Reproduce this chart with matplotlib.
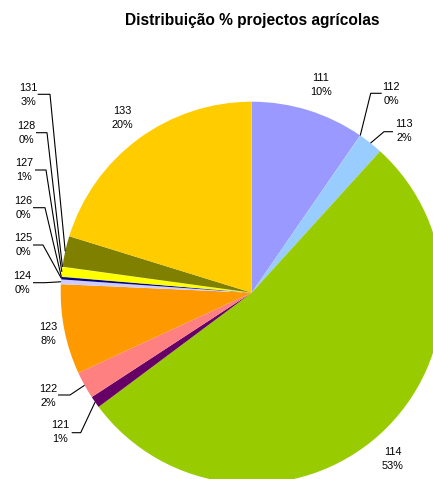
import matplotlib
matplotlib.use("Agg")
import matplotlib.pyplot as plt
import numpy as np

plt.rcParams['font.family'] = ['Liberation Sans', 'DejaVu Sans']

categories = ['111', '112', '113', '114', '121', '122', '123', '124', '125', '126', '127', '128', '131', '133']
values = [9.6, 0.02, 2.1, 53.0, 1.0, 2.3, 7.6, 0.4, 0.2, 0.03, 0.8, 0.03, 2.6, 20.2]
pct_labels = ['10%', '0%', '2%', '53%', '1%', '2%', '8%', '0%', '0%', '0%', '1%', '0%', '3%', '20%']
colors = ['#9999FF', '#99CCFF', '#99CCFF', '#99CC00', '#660066', '#FF8080', '#FF9900',
          '#CCCCFF', '#000080', '#000080', '#FFFF00', '#FFFF00', '#808000', '#FFCC00']
title = 'Distribuição % projectos agrícolas'

W, H = 433, 479
fig = plt.figure(figsize=(W / 100, H / 100), dpi=100)
ax = fig.add_axes([0, 0, 1, 1])

def P(x, y):
    return (x, H - y)

cx, cy = P(251.7, 292.7)
R = 191
wedges, _ = ax.pie(values, colors=colors, startangle=90, counterclock=False,
                   center=(cx, cy), radius=R, wedgeprops=dict(linewidth=0),
                   frame=True)
ax.set_xlim(0, W)
ax.set_ylim(0, H)
ax.set_aspect('equal')
ax.axis('off')

# label layout: text centre (pixels), leader (start, elbow) or None
layout = {
    '111': ((321, 85), None),
    '112': ((391, 94), ((381.7, 93.3), (370.7, 93.3))),
    '113': ((404, 131), ((393, 131.7), (384, 131.7))),
    '114': ((393, 459), None),
    '121': ((60, 432.5), ((71.7, 432.7), (80.7, 432.7))),
    '122': ((48, 395.5), ((58, 395), (70, 395))),
    '123': ((48, 334), None),
    '124': ((22, 283), ((33, 282.7), (45, 282.7))),
    '125': ((23, 245), ((33, 245), (43, 245))),
    '126': ((23, 207.5), ((33, 207.7), (45, 207.7))),
    '127': ((24, 170), ((35, 170), (46, 170))),
    '128': ((26, 133), ((36, 132.7), (47, 132.7))),
    '131': ((28, 94.7), ((37.7, 94.3), (50, 94.3))),
    '133': ((122, 117.5), None),
}

for w, cat, pl in zip(wedges, categories, pct_labels):
    (tx, ty), leader = layout[cat]
    ax.text(*P(tx, ty), f'{cat}\n{pl}', ha='center', va='center', fontsize=7.8,
            linespacing=1.5, color='#000000')
    if leader is not None:
        mid = np.deg2rad((w.theta1 + w.theta2) / 2)
        axx = cx + R * np.cos(mid)
        ayy = cy + R * np.sin(mid)
        (sx, sy), (ex, ey) = leader
        p1 = P(sx, sy)
        p2 = P(ex, ey)
        ax.plot([p1[0], p2[0], axx], [p1[1], p2[1], ayy], color='black', lw=0.8,
                solid_capstyle='butt')

ax.text(*P(252, 20.5), title, ha='center', va='center', fontsize=11.2, fontweight='bold')

fig.savefig('out.png', dpi=100)
